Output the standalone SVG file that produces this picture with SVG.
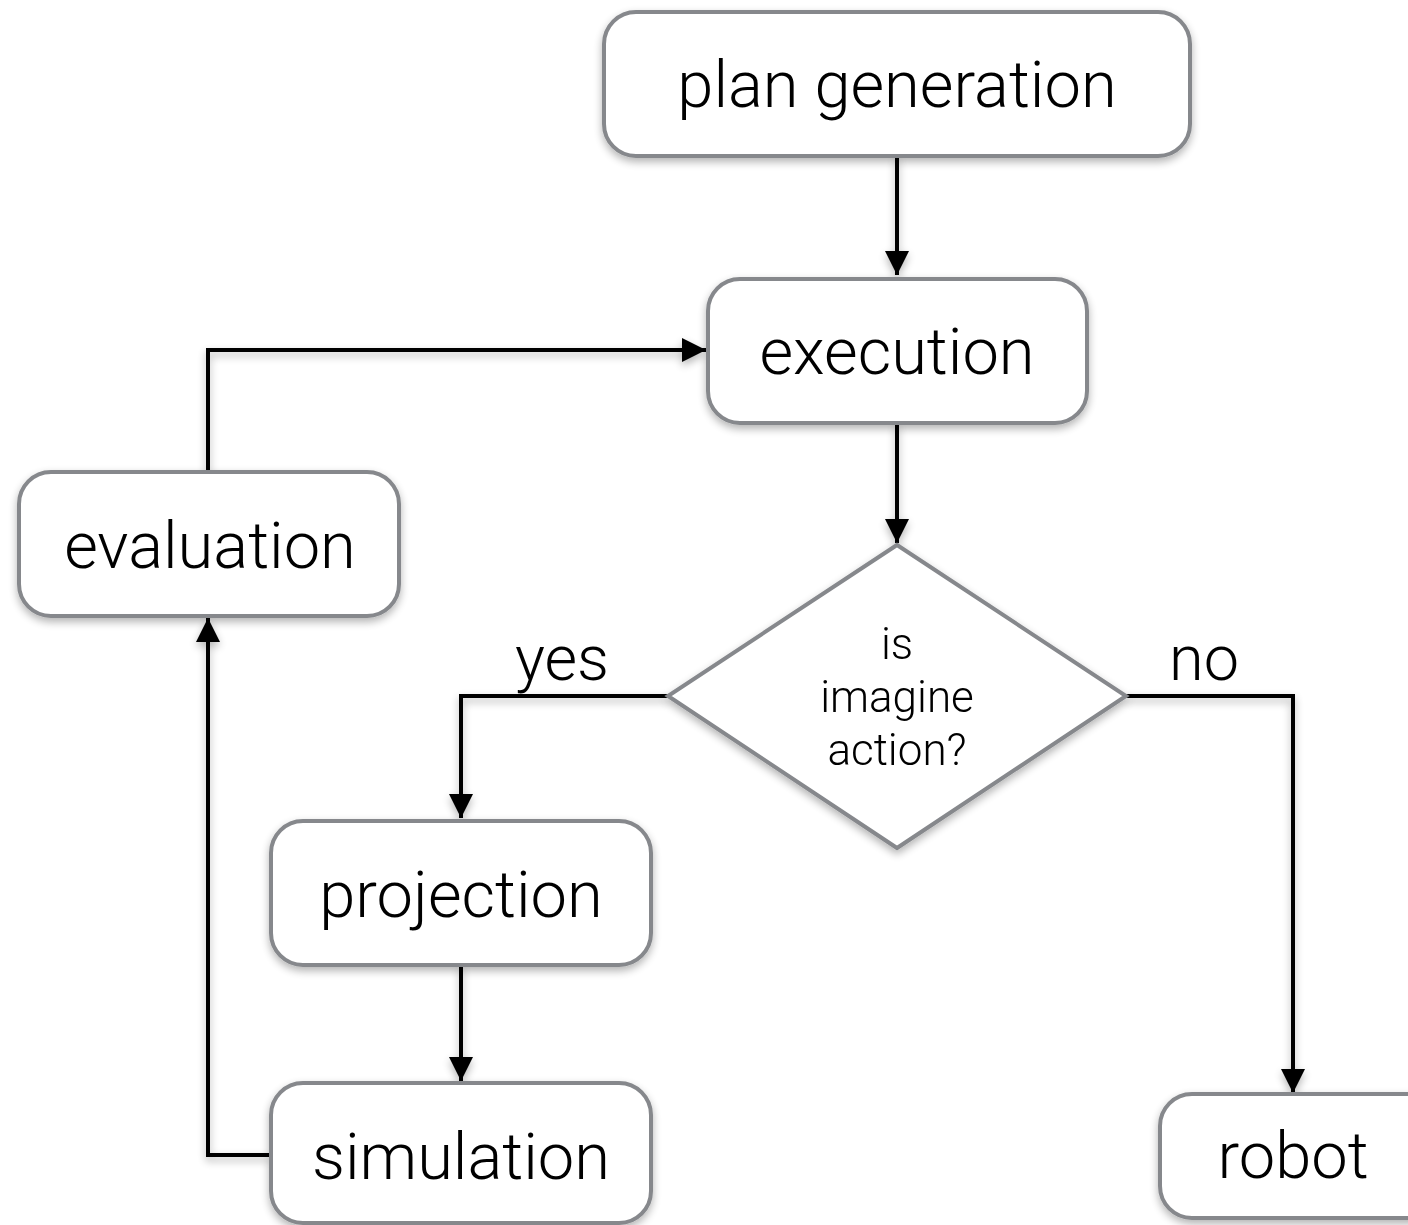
<svg xmlns="http://www.w3.org/2000/svg" width="1408" height="1225" viewBox="0 0 1408 1225">
  <defs>
    <filter id="soft" x="-10%" y="-10%" width="120%" height="130%">
      <feGaussianBlur in="SourceAlpha" stdDeviation="4"/>
      <feOffset dx="0" dy="4" result="b"/>
      <feComponentTransfer><feFuncA type="linear" slope="0.3"/></feComponentTransfer>
      <feMerge><feMergeNode/><feMergeNode in="SourceGraphic"/></feMerge>
    </filter>
    <marker id="arrow" viewBox="0 0 24 24" refX="24" refY="12" markerWidth="24" markerHeight="24" markerUnits="userSpaceOnUse" orient="auto">
      <path d="M0,0 L24,12 L0,24 Z" fill="#000"/>
    </marker>
  </defs>
  <style>
    .box { fill: #fff; stroke: #86888c; stroke-width: 4; }
    .lbl { font-family: Roboto, "Liberation Sans", sans-serif; font-weight: 300; fill: #000; text-anchor: middle; }
    .big { font-size: 65px; }
    .small { font-size: 44px; }
    .tag { font-size: 63px; }
    .edge { fill: none; stroke: #000; stroke-width: 4; marker-end: url(#arrow); }
  </style>
  <rect width="1408" height="1225" fill="#fff"/>

  <g id="connectors" filter="url(#soft)">
    <path class="edge" d="M897,156 V275"/>
    <path class="edge" d="M897,423 V543"/>
    <path class="edge" d="M208,472 V350 H706"/>
    <path class="edge" d="M668,696 H461 V818"/>
    <path class="edge" d="M1126,696 H1293 V1093"/>
    <path class="edge" d="M461,965 V1081"/>
    <path class="edge" d="M270,1155 H208 V618"/>
  </g>

  <g id="plan-generation" filter="url(#soft)">
    <rect class="box" x="604" y="12" width="586" height="144" rx="32"/>
    <text class="lbl big" x="897" y="107">plan generation</text>
  </g>
  <g id="execution" filter="url(#soft)">
    <rect class="box" x="708" y="279" width="379" height="144" rx="32"/>
    <text class="lbl big" x="897" y="374">execution</text>
  </g>
  <g id="evaluation" filter="url(#soft)">
    <rect class="box" x="19" y="472" width="380" height="144" rx="32"/>
    <text class="lbl big" x="210" y="568">evaluation</text>
  </g>
  <g id="decision" filter="url(#soft)">
    <polygon class="box" points="897,545 1126,696 897,848 668,696"/>
    <text class="lbl small" x="897" y="659">is</text>
    <text class="lbl small" x="897" y="712">imagine</text>
    <text class="lbl small" x="897" y="765">action?</text>
  </g>
  <g id="projection" filter="url(#soft)">
    <rect class="box" x="271" y="821" width="380" height="144" rx="32"/>
    <text class="lbl big" x="461" y="917">projection</text>
  </g>
  <g id="simulation" filter="url(#soft)">
    <rect class="box" x="271" y="1083" width="380" height="140" rx="32"/>
    <text class="lbl big" x="461" y="1179">simulation</text>
  </g>
  <g id="robot" filter="url(#soft)">
    <rect class="box" x="1160" y="1094" width="280" height="124" rx="32"/>
    <text class="lbl big" x="1293" y="1178">robot</text>
  </g>

  <g id="edge-labels">
    <text class="lbl tag" x="562" y="680">yes</text>
    <text class="lbl tag" x="1204" y="680">no</text>
  </g>
</svg>
